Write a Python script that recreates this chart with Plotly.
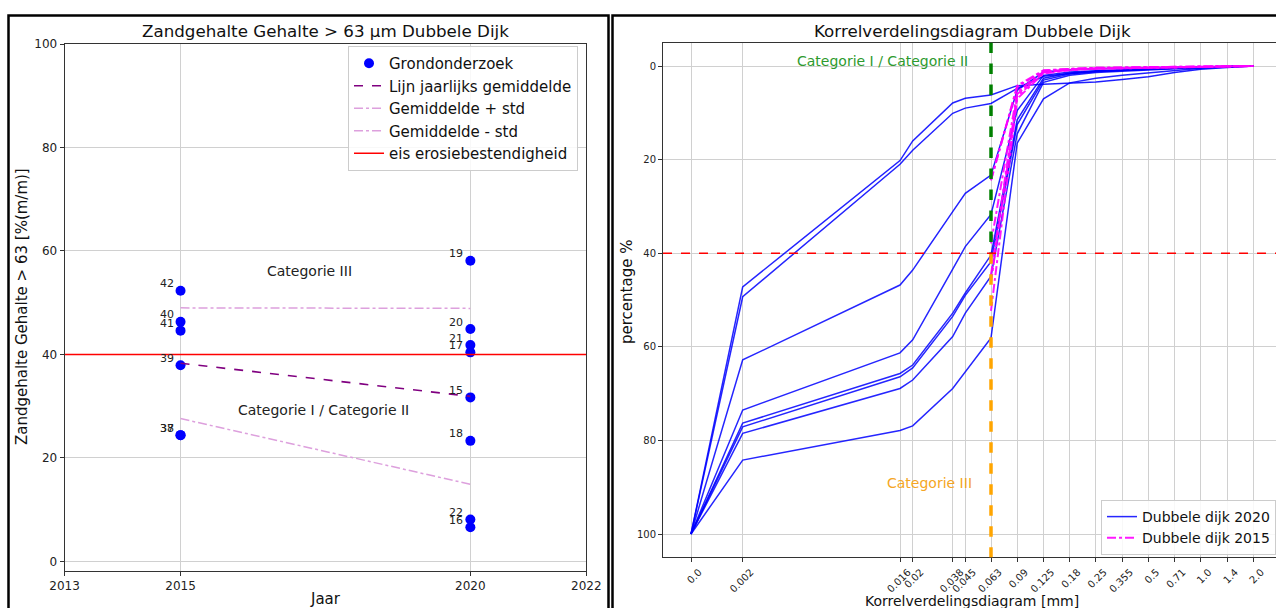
import plotly.graph_objects as go

W, H = 1276, 608
FONT = "DejaVu Sans"

# ---------------- left panel data ----------------
ids_2015 = ["42", "40", "41", "39", "38", "37"]
sand_2015 = [52.3, 46.3, 44.6, 37.9, 24.4, 24.4]
ids_2020 = ["19", "20", "21", "17", "15", "18", "22", "16"]
sand_2020 = [58.1, 44.9, 41.8, 40.4, 31.7, 23.3, 8.1, 6.6]
years = [2015, 2020]
mean_line = [38.3, 31.9]
mean_plus_std = [49.0, 48.9]
mean_minus_std = [27.6, 14.9]
norm_value = 40
year_ticks = [2013, 2015, 2020, 2022]

# ---------------- right panel data ----------------
sieve_labels = ["0.0", "0.002", "0.016", "0.02", "0.038", "0.045", "0.063", "0.09",
                "0.125", "0.18", "0.25", "0.355", "0.5", "0.71", "1.0", "1.4", "2.0"]
# non-uniform axis scale of the original chart (axis units for every sieve)
sieve_axis_pos = [0, 51.7, 209, 221.7, 261.7, 274.3, 300, 326.2, 352.5, 378.7,
                  404.9, 431.2, 457.4, 483.6, 509.8, 536.1, 562.3]

curves_2020 = {
    "16": [100, 47.2, 20.2, 16.0, 7.9, 6.9, 6.2, 4.2, 3.9, 3.7, 3.4, 2.9, 2.3, 1.4, 0.7, 0.3, 0.0],
    "22": [100, 49.3, 21.0, 18.0, 10.1, 9.0, 8.0, 4.8, 2.2, 1.6, 1.2, 0.9, 0.7, 0.5, 0.3, 0.1, 0.0],
    "18": [100, 62.8, 46.8, 43.6, 31.1, 27.2, 23.3, 5.2, 1.3, 0.8, 0.6, 0.5, 0.4, 0.3, 0.2, 0.1, 0.0],
    "15": [100, 73.5, 61.3, 58.5, 43.4, 38.6, 31.7, 9.5, 2.0, 1.3, 1.0, 0.8, 0.6, 0.4, 0.2, 0.1, 0.0],
    "17": [100, 76.3, 65.7, 63.9, 52.8, 48.5, 40.4, 11.5, 2.6, 1.5, 1.1, 0.9, 0.7, 0.4, 0.2, 0.1, 0.0],
    "21": [100, 77.1, 66.4, 64.5, 53.5, 49.0, 41.8, 12.5, 3.0, 1.7, 1.2, 1.0, 0.7, 0.4, 0.2, 0.1, 0.0],
    "20": [100, 78.5, 68.9, 67.1, 57.8, 52.8, 44.9, 14.5, 3.5, 2.0, 1.4, 1.1, 0.8, 0.5, 0.3, 0.1, 0.0],
    "19": [100, 84.2, 77.9, 76.9, 68.9, 65.3, 58.1, 16.5, 7.0, 3.6, 2.6, 2.0, 1.5, 0.9, 0.5, 0.2, 0.0],
}
# 2015 samples only measured from 0.063 mm upward
curves_2015_start = "0.063"
curves_2015 = {
    "42": [52.3, 7.0, 1.6, 0.9, 0.6, 0.5, 0.4, 0.3, 0.2, 0.1, 0.0],
    "40": [46.3, 6.5, 1.4, 0.8, 0.6, 0.5, 0.4, 0.3, 0.2, 0.1, 0.0],
    "41": [44.6, 6.0, 1.3, 0.8, 0.5, 0.4, 0.3, 0.2, 0.1, 0.05, 0.0],
    "39": [37.9, 5.5, 1.2, 0.7, 0.5, 0.4, 0.3, 0.2, 0.1, 0.05, 0.0],
    "38": [24.4, 4.5, 1.0, 0.6, 0.4, 0.3, 0.2, 0.1, 0.1, 0.05, 0.0],
    "37": [24.4, 4.2, 0.9, 0.6, 0.4, 0.3, 0.2, 0.1, 0.1, 0.05, 0.0],
}
category_sieve = "0.063"
category_boundary = 40
pct_ticks = [0, 20, 40, 60, 80, 100]


def fx(x):
    return x / W


def fy(y):
    return 1 - y / H


fig = go.Figure()

# ---------------- left panel traces ----------------
fig.add_trace(go.Scatter(
    x=[years[0]] * len(sand_2015) + [years[1]] * len(sand_2020),
    y=sand_2015 + sand_2020, mode="markers",
    marker=dict(color="#0000ff", size=10), name="Grondonderzoek",
    xaxis="x", yaxis="y", legend="legend"))
fig.add_trace(go.Scatter(
    x=years, y=mean_line, mode="lines", name="Lijn jaarlijks gemiddelde",
    line=dict(color="#800080", width=1.6, dash="dash"),
    xaxis="x", yaxis="y", legend="legend"))
fig.add_trace(go.Scatter(
    x=years, y=mean_plus_std, mode="lines", name="Gemiddelde + std",
    line=dict(color="#dda0dd", width=1.5, dash="dashdot"),
    xaxis="x", yaxis="y", legend="legend"))
fig.add_trace(go.Scatter(
    x=years, y=mean_minus_std, mode="lines", name="Gemiddelde - std",
    line=dict(color="#dda0dd", width=1.5, dash="dashdot"),
    xaxis="x", yaxis="y", legend="legend"))
fig.add_trace(go.Scatter(
    x=[year_ticks[0], year_ticks[-1]], y=[norm_value, norm_value], mode="lines",
    name="eis erosiebestendigheid", line=dict(color="#ff0000", width=1.5),
    xaxis="x", yaxis="y", legend="legend"))

annotations = []
for yr, ids, vals in ((years[0], ids_2015, sand_2015), (years[1], ids_2020, sand_2020)):
    for lab, v in zip(ids, vals):
        annotations.append(dict(
            x=yr, y=v, xref="x", yref="y", text=lab, showarrow=False,
            xanchor="right", yanchor="middle", xshift=-5, yshift=7,
            font=dict(family=FONT, size=11, color="#222222")))

annotations += [
    dict(x=2017.23, y=56.2, xref="x", yref="y", text="Categorie III", showarrow=False,
         xanchor="center", yanchor="middle",
         font=dict(family=FONT, size=14, color="#222222")),
    dict(x=2017.47, y=29.2, xref="x", yref="y", text="Categorie I / Categorie II",
         xanchor="center", yanchor="middle",
         showarrow=False, font=dict(family=FONT, size=14, color="#222222")),
]

# ---------------- right panel traces ----------------
first = True
for name, vals in curves_2020.items():
    fig.add_trace(go.Scatter(
        x=sieve_axis_pos, y=vals, mode="lines", name="Dubbele dijk 2020",
        legendgroup="2020", showlegend=first,
        line=dict(color="#0000ff", width=1.5), opacity=0.85,
        xaxis="x2", yaxis="y2", legend="legend2"))
    first = False

start = sieve_labels.index(curves_2015_start)
first = True
for name, vals in curves_2015.items():
    fig.add_trace(go.Scatter(
        x=sieve_axis_pos[start:start + len(vals)], y=vals, mode="lines",
        name="Dubbele dijk 2015", legendgroup="2015", showlegend=first,
        line=dict(color="#ff00ff", width=2, dash="dashdot"), opacity=0.9,
        xaxis="x2", yaxis="y2", legend="legend2"))
    first = False

xc = sieve_axis_pos[sieve_labels.index(category_sieve)]
shapes = [
    dict(type="line", xref="x2", yref="y2", x0=xc, x1=xc, y0=-5, y1=category_boundary,
         line=dict(color="#008000", width=3.5, dash="dash"), layer="above"),
    dict(type="line", xref="x2", yref="y2", x0=xc, x1=xc, y0=category_boundary, y1=105,
         line=dict(color="#ffa500", width=3.5, dash="dash"), layer="above"),
    dict(type="line", xref="x2 domain", yref="y2", x0=0, x1=1,
         y0=category_boundary, y1=category_boundary,
         line=dict(color="#ff0000", width=1.5, dash="dash"), layer="above"),
    # outer frames of the two sub-figures
    dict(type="rect", xref="paper", yref="paper", x0=fx(8.5), x1=fx(608.5), y0=-0.05, y1=fy(15.5),
         line=dict(color="black", width=2.5)),
    dict(type="rect", xref="paper", yref="paper", x0=fx(612.5), x1=1.05, y0=-0.05, y1=fy(15.5),
         line=dict(color="black", width=2.5)),
]


def paper_text(x, y, text, size, angle=0, color="#111111"):
    return dict(x=fx(x), y=fy(y), xref="paper", yref="paper", showarrow=False,
                xanchor="center", yanchor="middle", textangle=angle, text=text,
                font=dict(family=FONT, size=size, color=color))


annotations += [
    dict(x=191.5, y=-1.1, xref="x2", yref="y2", text="Categorie I / Categorie II",
         showarrow=False, xanchor="center", yanchor="middle",
         font=dict(family=FONT, size=14, color="#2e9a2e")),
    dict(x=238, y=89.1, xref="x2", yref="y2", text="Categorie III",
         showarrow=False, xanchor="center", yanchor="middle",
         font=dict(family=FONT, size=14, color="#f5a623")),
    paper_text(325.5, 31, "Zandgehalte Gehalte > 63 µm Dubbele Dijk", 16.7),
    paper_text(972, 31, "Korrelverdelingsdiagram Dubbele Dijk", 16.7),
    paper_text(325.5, 599, "Jaar", 15),
    paper_text(972, 601, "Korrelverdelingsdiagram [mm]", 14),
    paper_text(22, 307, "Zandgehalte Gehalte > 63 [%(m/m)]", 15, -90),
    paper_text(627, 292, "percentage %", 15, -90),
]

axis_common = dict(showgrid=True, gridcolor="#d0d0d0", gridwidth=1, zeroline=False,
                   showline=True, linecolor="#333333", linewidth=1, automargin=False,
                   ticks="outside", ticklen=4, tickcolor="#333333")

fig.update_layout(
    width=W, height=H, autosize=False,
    margin=dict(l=0, r=0, t=0, b=0, pad=0, autoexpand=False),
    paper_bgcolor="white", plot_bgcolor="white",
    font=dict(family=FONT, color="#222222"),
    xaxis=dict(domain=[fx(64.6), fx(586.3)], range=[2013, 2022], tickvals=year_ticks,
               mirror=True, anchor="y", tickfont=dict(size=12), **axis_common),
    yaxis=dict(domain=[fy(570.7), fy(44)], range=[-1.8, 100], tickvals=pct_ticks,
               mirror=True, anchor="x", tickfont=dict(size=12), **axis_common),
    xaxis2=dict(domain=[fx(663), 1], range=[-28, 585],
                tickvals=sieve_axis_pos, ticktext=sieve_labels, tickangle=-45,
                ticklabelshift=8, mirror=True, anchor="y2",
                tickfont=dict(size=10), **axis_common),
    yaxis2=dict(domain=[fy(557.4), fy(42.6)], range=[105, -5], tickvals=pct_ticks,
                anchor="x2", tickfont=dict(size=10), **axis_common),
    legend=dict(x=fx(578), y=fy(46), xanchor="right", yanchor="top",
                font=dict(family=FONT, size=15, color="#111111"),
                bgcolor="rgba(255,255,255,0.85)", bordercolor="#cccccc", borderwidth=1,
                tracegroupgap=0),
    legend2=dict(x=fx(1276), y=fy(555), xanchor="right", yanchor="bottom",
                 font=dict(family=FONT, size=14, color="#111111"),
                 bgcolor="rgba(255,255,255,0.85)", bordercolor="#cccccc", borderwidth=1,
                 tracegroupgap=0),
    annotations=annotations,
    shapes=shapes,
    showlegend=True,
)

fig.write_html("out.html")
